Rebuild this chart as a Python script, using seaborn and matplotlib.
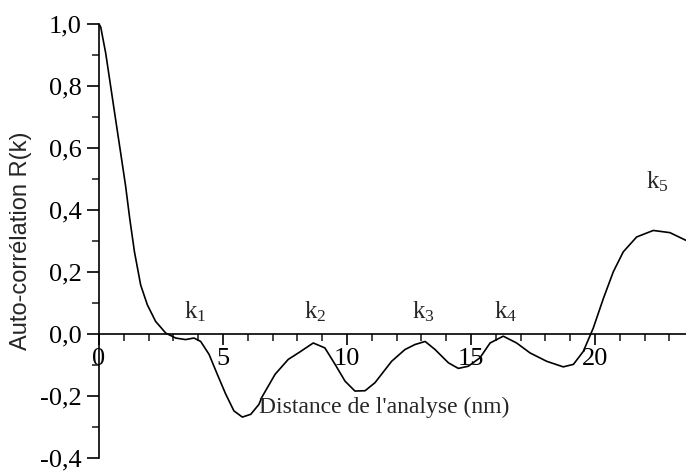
import numpy as np
import pandas as pd
import seaborn as sns
import matplotlib
matplotlib.use("Agg")
import matplotlib.pyplot as plt
from matplotlib.ticker import MultipleLocator, FuncFormatter

# ==================================
# Data
# ==================================

distance = [0, 0.07, 0.27, 0.47, 0.67, 0.87, 1.07, 1.24, 1.43, 1.68, 1.95,
            2.28, 2.69, 3.09, 3.49, 3.83, 4.1, 4.44, 4.77, 5.11, 5.44, 5.78,
            6.12, 6.45, 6.56, 7.1, 7.63, 8.04, 8.64, 9.11, 9.52, 9.92, 10.32,
            10.73, 11.13, 11.8, 12.34, 12.74, 13.15, 13.55, 14.09, 14.49,
            14.89, 15.36, 15.77, 16.3, 16.84, 17.38, 18.05, 18.72, 19.13,
            19.53, 19.93, 20.34, 20.74, 21.14, 21.68, 22.35, 23.02, 23.67]
autocorr = [1.0, 0.99, 0.906, 0.799, 0.692, 0.586, 0.479, 0.372, 0.265,
            0.158, 0.094, 0.041, 0.003, -0.013, -0.018, -0.013, -0.024,
            -0.066, -0.13, -0.194, -0.248, -0.268, -0.259, -0.227, -0.205,
            -0.13, -0.082, -0.061, -0.029, -0.045, -0.098, -0.152, -0.184,
            -0.183, -0.157, -0.088, -0.05, -0.034, -0.024, -0.05, -0.093,
            -0.111, -0.104, -0.077, -0.029, -0.007, -0.029, -0.061, -0.088,
            -0.106, -0.098, -0.056, 0.019, 0.115, 0.201, 0.265, 0.313,
            0.334, 0.327, 0.302]

peak_labels = ["k_1", "k_2", "k_3", "k_4", "k_5"]
peak_x = [3.87, 8.7, 13.1, 16.4, 22.5]
peak_y = [0.072, 0.072, 0.072, 0.072, 0.49]

df = pd.DataFrame({"distance": distance, "autocorr": autocorr})

# ==================================
# Style
# ==================================

sns.set_style("ticks")
plt.rcParams['font.family'] = ['Liberation Serif', 'DejaVu Serif']

fig = plt.figure(figsize=(6.86, 4.71), dpi=100)
ax = fig.add_axes([99 / 686, 13 / 471, 1 - 99 / 686, 434 / 471])

sns.lineplot(x="distance", y="autocorr", data=df, ax=ax, color="black",
             linewidth=1.2, sort=False, estimator=None)

ax.set_xlim(0, 23.67)
ax.set_ylim(-0.4, 1.0)

# axes: y spine on the left, x spine crossing at y = 0
ax.spines['top'].set_visible(False)
ax.spines['right'].set_visible(False)
ax.spines['bottom'].set_position(('data', 0))
for s in ['left', 'bottom']:
    ax.spines[s].set_linewidth(1.2)
    ax.spines[s].set_color('black')

ax.xaxis.set_major_locator(MultipleLocator(5))
ax.xaxis.set_minor_locator(MultipleLocator(1))
ax.yaxis.set_major_locator(MultipleLocator(0.2))
ax.yaxis.set_minor_locator(MultipleLocator(0.1))
ax.yaxis.set_major_formatter(FuncFormatter(lambda v, p: f"{v:.1f}".replace('.', ',').replace('-0,0', '0,0')))

ax.tick_params(axis='both', which='major', direction='out', length=9, width=1.2,
               labelsize=19, colors='black')
ax.tick_params(axis='both', which='minor', direction='out', length=5, width=1.2)
ax.tick_params(axis='x', which='major', length=8, pad=2)

ax.set_xlabel("")
ax.set_ylabel("Auto-corrélation R(k)", fontsize=17, family=['Liberation Sans', 'DejaVu Sans'],
              labelpad=6)

ax.text(11.5, -0.237, "Distance de l'analyse (nm)", fontsize=17, ha='center', va='center')

for lab, px, py in zip(peak_labels, peak_x, peak_y):
    ax.text(px, py, r"$\mathregular{" + lab + "}$", fontsize=18, ha='center', va='center')

plt.savefig("out.png", dpi=100)
